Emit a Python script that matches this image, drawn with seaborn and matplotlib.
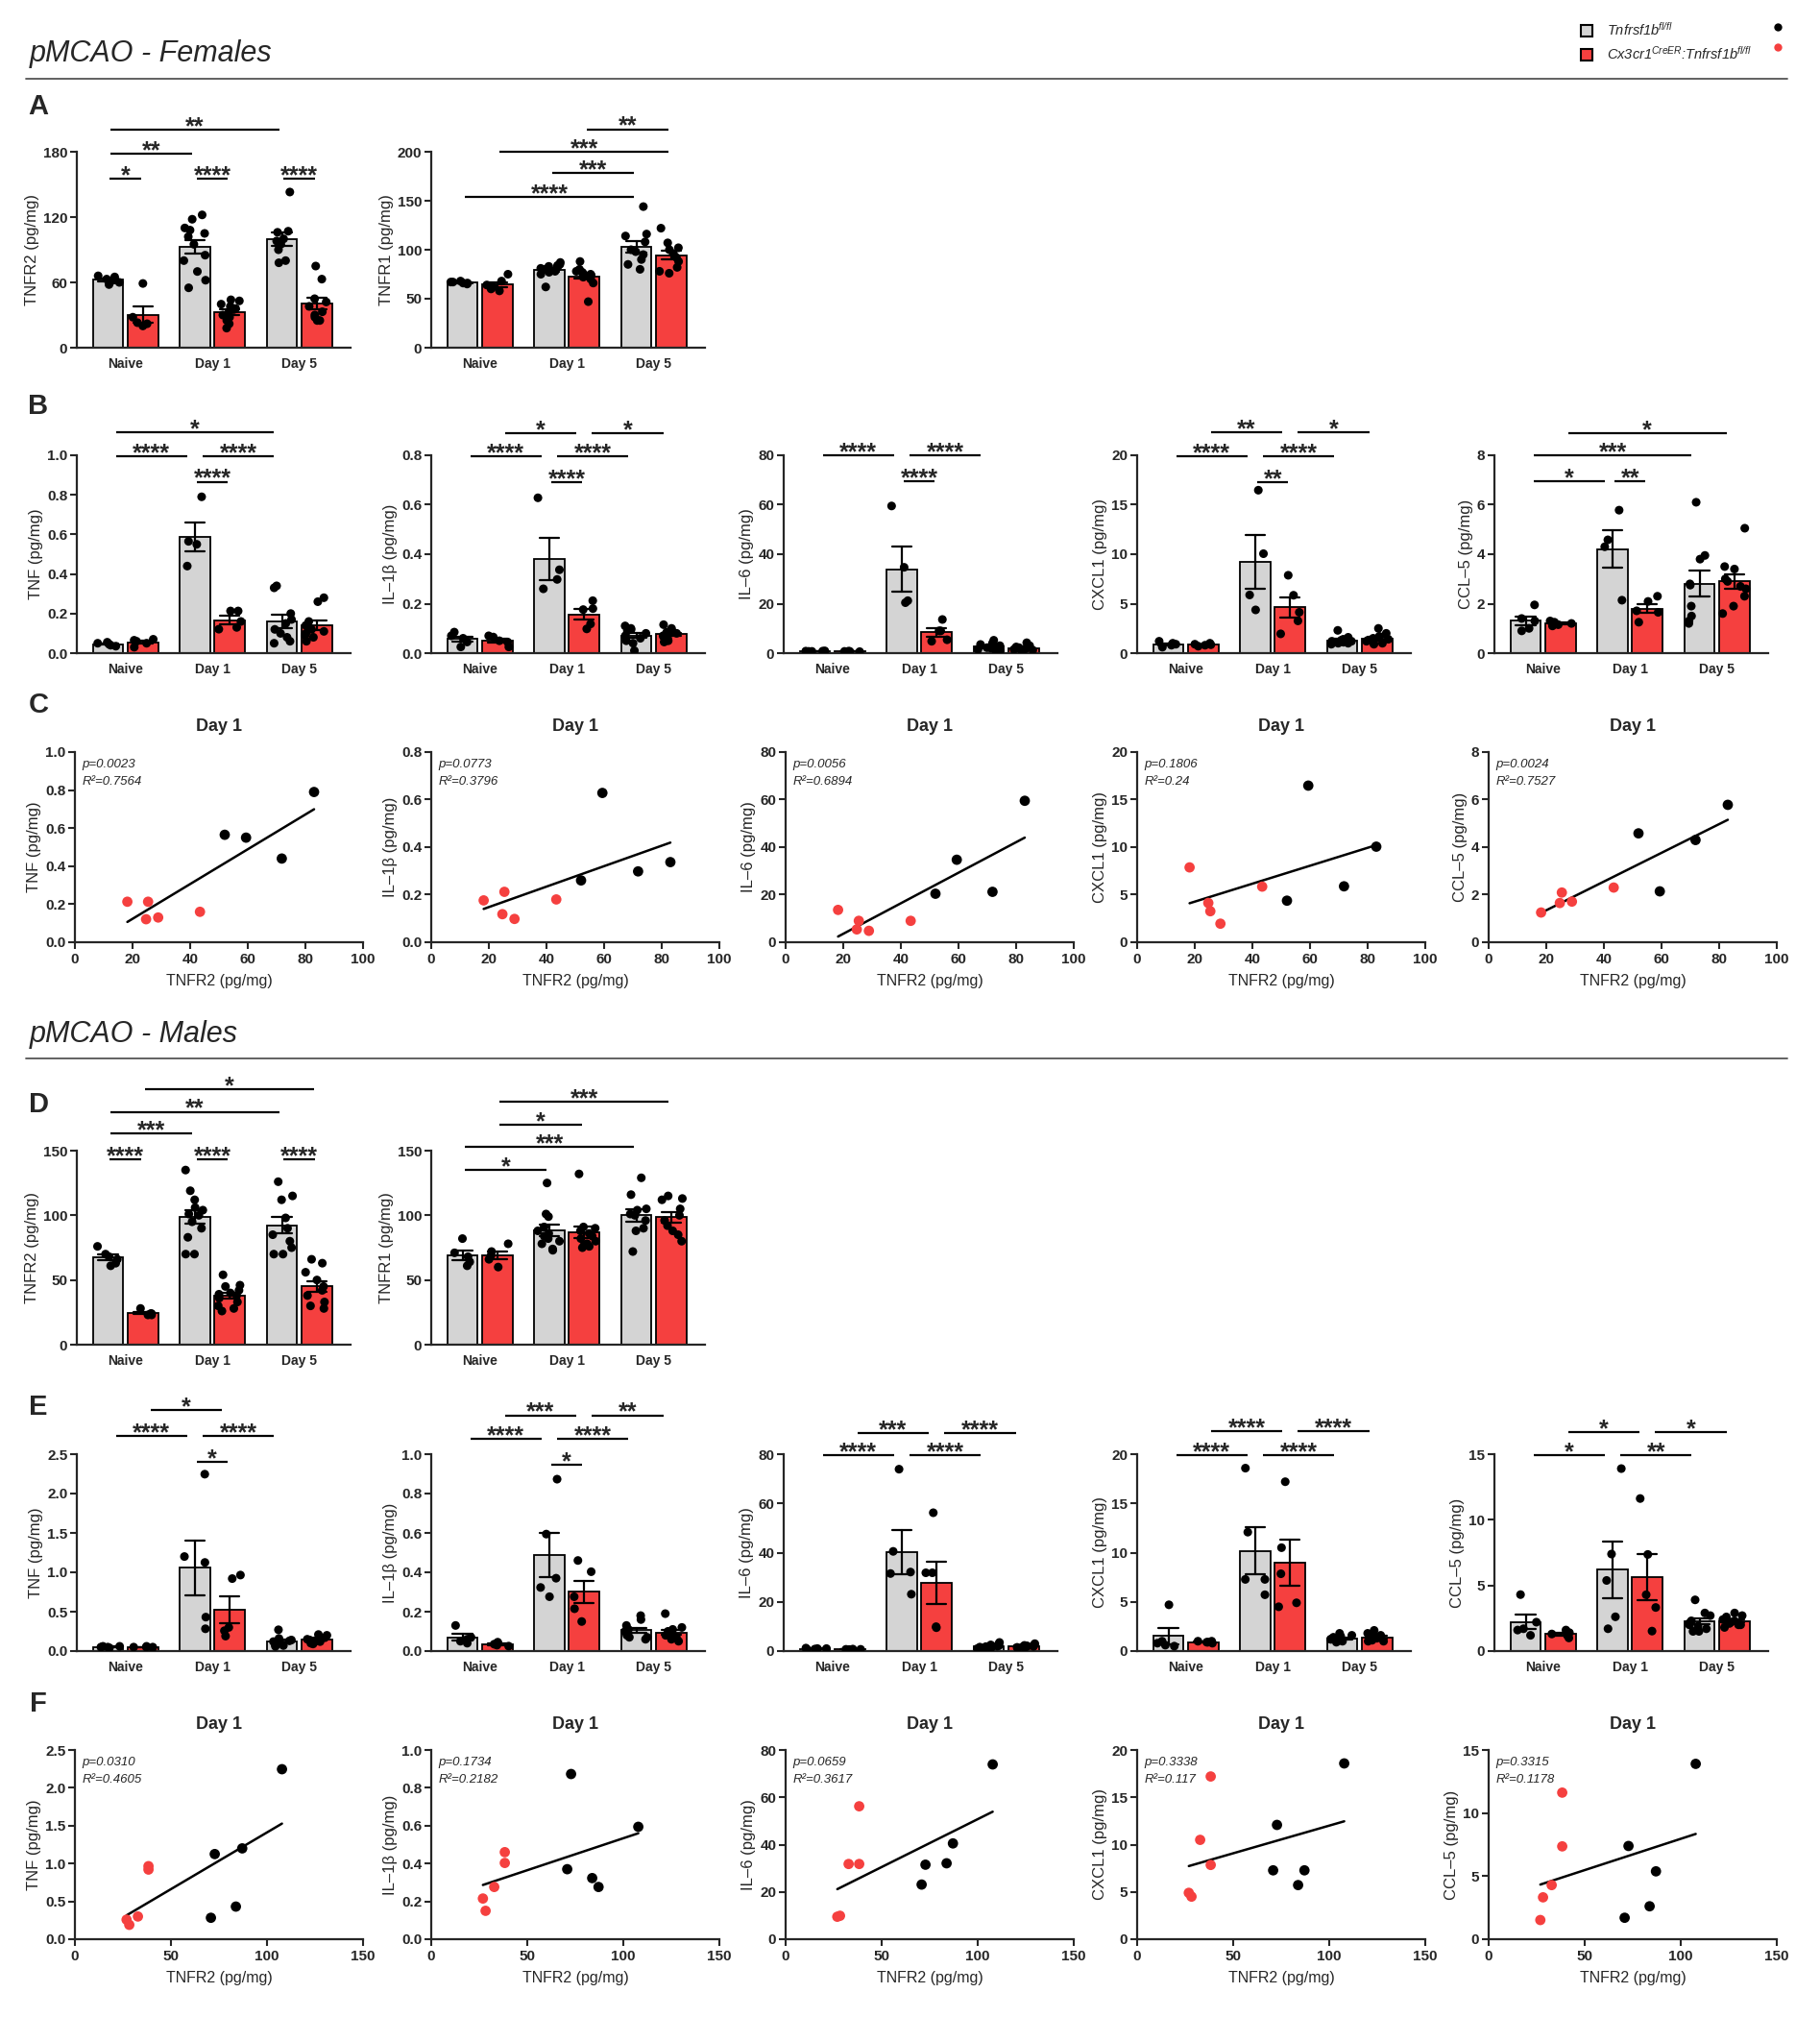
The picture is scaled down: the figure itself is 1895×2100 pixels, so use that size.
import warnings
import numpy as np
import matplotlib
matplotlib.use('Agg')
import matplotlib.pyplot as plt
from matplotlib.lines import Line2D
import seaborn as sns
import pandas as pd

warnings.filterwarnings('ignore')
np.random.seed(7)  # only for the horizontal jitter of the dots

# ---------------- data ----------------
days = ['Naive', 'Day 1', 'Day 5']
genotypes = ['Tnfrsf1b fl/fl', 'Cx3cr1 CreER:Tnfrsf1b fl/fl']
legend_labels = ['Tnfrsf1b$^{fl/fl}$', 'Cx3cr1$^{CreER}$:Tnfrsf1b$^{fl/fl}$']

# females, receptors (panel A)
fem_tnfr2_wt = [[66, 65, 63, 62, 60, 58],
                [122, 118, 110, 108, 105, 102, 95, 85, 80, 70, 62, 55],
                [143, 107, 106, 100, 98, 95, 90, 80, 78]]
fem_tnfr2_ko = [[59, 28, 23, 20, 22],
                [44, 43, 40, 38, 36, 35, 33, 30, 28, 25, 22, 18],
                [75, 63, 45, 42, 38, 33, 30, 28, 25, 25]]
fem_tnfr1_wt = [[68, 67, 67, 66, 66, 65],
                [87, 85, 84, 83, 82, 81, 80, 79, 78, 77, 75, 62],
                [144, 116, 114, 108, 100, 98, 95, 90, 85, 80]]
fem_tnfr1_ko = [[75, 68, 64, 62, 58, 60],
                [88, 80, 78, 77, 76, 75, 74, 73, 72, 70, 66, 47],
                [122, 107, 102, 100, 96, 92, 88, 82, 78, 76]]

# females, day 1 mice used in the correlations (panel C)
fem_d1_tnfr2_wt = [52.0, 59.4, 71.8, 83.0]
fem_d1_tnfr2_ko = [18.2, 24.7, 25.4, 28.9, 43.4]
fem_d1_tnf_wt = [0.565, 0.55, 0.44, 0.79]
fem_d1_tnf_ko = [0.213, 0.121, 0.213, 0.13, 0.16]
fem_d1_il1b_wt = [0.26, 0.628, 0.298, 0.337]
fem_d1_il1b_ko = [0.176, 0.118, 0.212, 0.098, 0.18]
fem_d1_il6_wt = [20.4, 34.7, 21.2, 59.5]
fem_d1_il6_ko = [13.6, 5.4, 9.0, 4.8, 9.0]
fem_d1_cxcl1_wt = [4.37, 16.47, 5.88, 10.05]
fem_d1_cxcl1_ko = [7.87, 4.13, 3.26, 1.95, 5.85]
fem_d1_ccl5_wt = [4.58, 2.14, 4.30, 5.78]
fem_d1_ccl5_ko = [1.25, 1.65, 2.09, 1.71, 2.30]

# females, cytokines (panel B)
fem_tnf_wt = [[0.055, 0.05, 0.045, 0.04, 0.035], fem_d1_tnf_wt,
              [0.34, 0.33, 0.20, 0.17, 0.12, 0.10, 0.08, 0.06, 0.05, 0.15]]
fem_tnf_ko = [[0.07, 0.065, 0.06, 0.05, 0.03], fem_d1_tnf_ko,
              [0.28, 0.26, 0.16, 0.14, 0.12, 0.11, 0.10, 0.09, 0.08, 0.06]]
fem_il1b_wt = [[0.085, 0.07, 0.06, 0.045, 0.025], fem_d1_il1b_wt,
               [0.11, 0.10, 0.095, 0.09, 0.08, 0.07, 0.06, 0.05, 0.04, 0.01]]
fem_il1b_ko = [[0.07, 0.065, 0.05, 0.045, 0.025], fem_d1_il1b_ko,
               [0.115, 0.10, 0.09, 0.085, 0.08, 0.07, 0.065, 0.06, 0.05, 0.045]]
fem_il6_wt = [[0.9, 0.8, 0.8, 0.7, 0.7], fem_d1_il6_wt,
              [5.2, 4.0, 3.5, 3.0, 2.5, 2.2, 2.0, 1.5, 1.0, 0.5]]
fem_il6_ko = [[0.8, 0.7, 0.7, 0.6, 0.6], fem_d1_il6_ko,
              [4.2, 3.0, 2.5, 2.2, 2.0, 1.8, 1.5, 1.2, 1.0, 0.6]]
fem_cxcl1_wt = [[1.2, 1.0, 0.9, 0.8, 0.6], fem_d1_cxcl1_wt,
                [2.3, 1.6, 1.4, 1.3, 1.2, 1.2, 1.1, 1.0, 0.9, 1.0]]
fem_cxcl1_ko = [[1.0, 0.9, 0.85, 0.8, 0.7], fem_d1_cxcl1_ko,
                [2.5, 2.0, 1.7, 1.5, 1.4, 1.3, 1.2, 1.0, 0.9, 1.0]]
fem_ccl5_wt = [[1.95, 1.4, 1.3, 1.0, 0.9], fem_d1_ccl5_wt,
               [6.1, 3.95, 3.8, 2.8, 2.75, 1.9, 1.5, 1.3, 1.2]]
fem_ccl5_ko = [[1.3, 1.25, 1.2, 1.15, 1.1], fem_d1_ccl5_ko,
               [5.05, 3.5, 3.4, 3.0, 2.9, 2.7, 2.3, 1.9, 1.6, 2.6]]

# males, receptors (panel D)
male_tnfr2_wt = [[76, 70, 68, 66, 63, 61],
                 [135, 119, 112, 106, 104, 101, 100, 95, 90, 83, 70, 70],
                 [126, 115, 112, 98, 90, 85, 80, 75, 70, 70]]
male_tnfr2_ko = [[28, 24, 24, 23, 23],
                 [54, 46, 45, 42, 40, 39, 38, 36, 33, 30, 28, 26],
                 [66, 63, 56, 50, 45, 42, 38, 33, 30, 28]]
male_tnfr1_wt = [[82, 71, 68, 64, 61],
                 [125, 101, 99, 91, 88, 86, 84, 82, 80, 78, 74, 73],
                 [129, 116, 105, 104, 101, 100, 96, 90, 88, 72]]
male_tnfr1_ko = [[78, 72, 69, 66, 60],
                 [132, 91, 90, 88, 86, 84, 82, 80, 78, 77, 76, 75],
                 [115, 113, 112, 105, 100, 96, 92, 88, 85, 80]]

# males, day 1 mice used in the correlations (panel F)
male_d1_tnfr2_wt = [70.8, 72.8, 83.8, 87.1, 107.8]
male_d1_tnfr2_ko = [26.9, 28.3, 32.8, 38.3, 38.3]
male_d1_tnf_wt = [0.283, 1.125, 0.431, 1.20, 2.246]
male_d1_tnf_ko = [0.258, 0.19, 0.30, 0.965, 0.92]
male_d1_il1b_wt = [0.37, 0.873, 0.323, 0.276, 0.594]
male_d1_il1b_ko = [0.215, 0.15, 0.276, 0.46, 0.403]
male_d1_il6_wt = [23.1, 31.5, 32.1, 40.5, 73.9]
male_d1_il6_ko = [9.5, 9.9, 31.8, 31.8, 56.2]
male_d1_cxcl1_wt = [7.28, 12.08, 5.72, 7.28, 18.58]
male_d1_cxcl1_ko = [4.9, 4.5, 10.5, 7.85, 17.2]
male_d1_ccl5_wt = [1.70, 7.39, 2.61, 5.38, 13.9]
male_d1_ccl5_ko = [1.52, 3.32, 4.29, 7.36, 11.62]

# males, cytokines (panel E)
male_tnf_wt = [[0.06, 0.06, 0.05, 0.05, 0.04], male_d1_tnf_wt,
               [0.27, 0.16, 0.14, 0.13, 0.12, 0.11, 0.10, 0.08, 0.07, 0.06]]
male_tnf_ko = [[0.06, 0.05, 0.05, 0.05, 0.04], male_d1_tnf_ko,
               [0.21, 0.20, 0.17, 0.15, 0.14, 0.13, 0.12, 0.11, 0.10, 0.09]]
male_il1b_wt = [[0.13, 0.07, 0.06, 0.05, 0.04], male_d1_il1b_wt,
                [0.18, 0.16, 0.13, 0.11, 0.10, 0.09, 0.08, 0.07, 0.06, 0.07]]
male_il1b_ko = [[0.045, 0.04, 0.035, 0.03, 0.025], male_d1_il1b_ko,
                [0.19, 0.12, 0.11, 0.10, 0.09, 0.08, 0.08, 0.07, 0.06, 0.05]]
male_il6_wt = [[1.2, 1.0, 1.0, 0.8, 0.8], male_d1_il6_wt,
               [3.5, 2.8, 2.5, 2.2, 2.0, 1.8, 1.6, 1.4, 1.2, 1.0]]
male_il6_ko = [[0.8, 0.7, 0.7, 0.6, 0.6], male_d1_il6_ko,
               [3.0, 2.6, 2.3, 2.1, 2.0, 1.9, 1.7, 1.6, 1.5, 1.3]]
male_cxcl1_wt = [[4.7, 1.0, 0.8, 0.6, 0.5], male_d1_cxcl1_wt,
                 [1.8, 1.6, 1.5, 1.4, 1.3, 1.2, 1.2, 1.1, 1.0, 0.9]]
male_cxcl1_ko = [[1.0, 1.0, 0.9, 0.9, 0.8], male_d1_cxcl1_ko,
                 [2.1, 1.8, 1.6, 1.5, 1.4, 1.3, 1.2, 1.1, 1.0, 1.0]]
male_ccl5_wt = [[4.3, 2.2, 1.7, 1.6, 1.2], male_d1_ccl5_wt,
                [3.9, 2.9, 2.7, 2.3, 2.1, 2.0, 1.9, 1.7, 1.5, 1.5]]
male_ccl5_ko = [[1.6, 1.4, 1.3, 1.2, 1.0], male_d1_ccl5_ko,
                [2.9, 2.7, 2.6, 2.4, 2.3, 2.2, 2.1, 2.0, 2.0, 1.8]]

# correlation statistics as printed (p, R2)
fem_stats = [('0.0023', '0.7564'), ('0.0773', '0.3796'), ('0.0056', '0.6894'),
             ('0.1806', '0.24'), ('0.0024', '0.7527')]
male_stats = [('0.0310', '0.4605'), ('0.1734', '0.2182'), ('0.0659', '0.3617'),
              ('0.3338', '0.117'), ('0.3315', '0.1178')]

# significance brackets: (group1, genotype1, group2, genotype2, height, stars)
br_fem_tnfr2 = [(0, 0, 0, 1, 155, '*'), (1, 0, 1, 1, 155, '****'), (2, 0, 2, 1, 155, '****'),
                (0, 0, 1, 0, 178.5, '**'), (0, 0, 2, 0, 200, '**')]
br_fem_tnfr1 = [(0, 0, 2, 0, 154, '****'), (1, 0, 2, 0, 178, '***'),
                (0, 1, 2, 1, 200, '***'), (1, 1, 2, 1, 223, '**')]
br_fem_tnf = [(1, 0, 1, 1, 0.866, '****'), (0, 0, 1, 0, 0.995, '****'),
              (1, 0, 2, 0, 0.995, '****'), (0, 0, 2, 0, 1.117, '*')]
br_fem_il1b = [(1, 0, 1, 1, 0.692, '****'), (0, 0, 1, 0, 0.796, '****'), (1, 0, 2, 0, 0.796, '****'),
               (0, 1, 1, 1, 0.89, '*'), (1, 1, 2, 1, 0.89, '*')]
br_fem_il6 = [(1, 0, 1, 1, 69.5, '****'), (0, 0, 1, 0, 79.9, '****'), (1, 0, 2, 0, 79.9, '****')]
br_fem_cxcl1 = [(1, 0, 1, 1, 17.3, '**'), (0, 0, 1, 0, 19.9, '****'), (1, 0, 2, 0, 19.9, '****'),
                (0, 1, 1, 1, 22.3, '**'), (1, 1, 2, 1, 22.3, '*')]
br_fem_ccl5 = [(0, 0, 1, 0, 6.95, '*'), (1, 0, 1, 1, 6.95, '**'),
               (0, 0, 2, 0, 8.0, '***'), (0, 1, 2, 1, 8.9, '*')]
br_male_tnfr2 = [(0, 0, 0, 1, 143.5, '****'), (1, 0, 1, 1, 143.5, '****'), (2, 0, 2, 1, 143.5, '****'),
                 (0, 0, 1, 0, 163, '***'), (0, 0, 2, 0, 180, '**'), (0, 1, 2, 1, 197.5, '*')]
br_male_tnfr1 = [(0, 0, 1, 0, 134.8, '*'), (0, 0, 2, 0, 152.6, '***'),
                 (0, 1, 1, 1, 170, '*'), (0, 1, 2, 1, 188, '***')]
br_male_tnf = [(1, 0, 1, 1, 2.4, '*'), (0, 0, 1, 0, 2.73, '****'),
               (1, 0, 2, 0, 2.73, '****'), (0, 1, 1, 1, 3.06, '*')]
br_male_il1b = [(1, 0, 1, 1, 0.948, '*'), (0, 0, 1, 0, 1.077, '****'), (1, 0, 2, 0, 1.077, '****'),
                (0, 1, 1, 1, 1.197, '***'), (1, 1, 2, 1, 1.197, '**')]
br_male_il6 = [(0, 0, 1, 0, 79.6, '****'), (1, 0, 2, 0, 79.6, '****'),
               (0, 1, 1, 1, 88.4, '***'), (1, 1, 2, 1, 88.4, '****')]
br_male_cxcl1 = [(0, 0, 1, 0, 19.9, '****'), (1, 0, 2, 0, 19.9, '****'),
                 (0, 1, 1, 1, 22.3, '****'), (1, 1, 2, 1, 22.3, '****')]
br_male_ccl5 = [(0, 0, 1, 0, 14.93, '*'), (1, 0, 2, 0, 14.93, '**'),
                (0, 1, 1, 1, 16.7, '*'), (1, 1, 2, 1, 16.7, '*')]

# ---------------- style ----------------
sns.set_theme(style='ticks')
plt.rcParams['font.family'] = ['Liberation Sans', 'DejaVu Sans']
plt.rcParams['mathtext.fontset'] = 'custom'
plt.rcParams['mathtext.it'] = 'Liberation Sans:italic'
plt.rcParams['mathtext.rm'] = 'Liberation Sans:italic'
plt.rcParams['mathtext.bf'] = 'Liberation Sans:bold'

GREY = '#d4d4d4'
RED = '#f5403f'
W, H = 1895, 2100
fig = plt.figure(figsize=(W / 100, H / 100), dpi=100)


def add_ax(left, top, width, height):
    # pixel box measured from the top-left corner
    return fig.add_axes([left / W, 1 - (top + height) / H, width / W, height / H])


def ticks_for(ymax, step):
    n = int(round(ymax / step))
    return [round(i * step, 4) for i in range(n + 1)]


def style_axes(ax, yticks, dec, ylabel):
    ax.set_yticks(yticks, labels=[f'{t:.{dec}f}' for t in yticks], fontsize=11, fontweight='bold')
    ax.set_ylim(0, yticks[-1])
    ax.set_ylabel(ylabel, fontsize=12, labelpad=3)
    ax.tick_params(axis='y', length=5, width=1.5, pad=2, direction='out')
    sns.despine(ax=ax)
    for side in ('left', 'bottom'):
        ax.spines[side].set_linewidth(1.6)


def bar_panel(ax, wt, ko, ymax, step, dec, ylabel, brackets, inset):
    rows = []
    for i, day in enumerate(days):
        rows += [(day, genotypes[0], v) for v in wt[i]]
        rows += [(day, genotypes[1], v) for v in ko[i]]
    df = pd.DataFrame(rows, columns=['day', 'genotype', 'value'])
    sns.barplot(data=df, x='day', y='value', hue='genotype', order=days, hue_order=genotypes,
                palette=[GREY, RED], saturation=1, errorbar='se', capsize=0.45, gap=0.12,
                edgecolor='black', linewidth=1.3,
                err_kws={'color': 'black', 'linewidth': 1.6}, legend=False, ax=ax)
    # jitter is split between the two dodged genotypes
    sns.stripplot(data=df, x='day', y='value', hue='genotype', order=days, hue_order=genotypes,
                  palette=['black', 'black'], dodge=True, jitter=0.27, size=6.5,
                  legend=False, ax=ax)
    style_axes(ax, ticks_for(ymax, step), dec, ylabel)
    ax.set_xticks(range(3), labels=days, fontsize=10, fontweight='bold')
    ax.set_xlim(-0.56, 2.59)
    ax.set_xlabel('')
    ax.tick_params(axis='x', length=0, pad=7)

    offs = [-0.2, 0.2]
    for g1, h1, g2, h2, y, stars in brackets:
        pad = 0.02 if g1 == g2 else inset
        x1, x2 = g1 + offs[h1] + pad, g2 + offs[h2] - pad
        ax.plot([x1, x2], [y, y], color='black', lw=1.6, clip_on=False, solid_capstyle='butt')
        ax.annotate(stars, ((x1 + x2) / 2, y), xytext=(0, -3), textcoords='offset points',
                    ha='center', va='baseline', fontsize=18, fontweight='bold',
                    annotation_clip=False)


def scatter_panel(ax, x_wt, y_wt, x_ko, y_ko, xmax, xstep, ymax, ystep, dec, ylabel, stats):
    df = pd.DataFrame({'tnfr2': x_wt + x_ko, 'value': y_wt + y_ko,
                       'genotype': [genotypes[0]] * len(x_wt) + [genotypes[1]] * len(x_ko)})
    sns.regplot(data=df, x='tnfr2', y='value', scatter=False, ci=None, color='black',
                line_kws={'linewidth': 1.8}, ax=ax)
    sns.scatterplot(data=df, x='tnfr2', y='value', hue='genotype', hue_order=genotypes,
                    palette=['black', RED], s=60, linewidth=0, legend=False, ax=ax, zorder=3)
    style_axes(ax, ticks_for(ymax, ystep), dec, ylabel)
    xt = list(range(0, xmax + 1, xstep))
    ax.set_xticks(xt, labels=[str(t) for t in xt], fontsize=11, fontweight='bold')
    ax.set_xlim(0, xmax)
    ax.tick_params(axis='x', length=5, width=1.5, pad=3, direction='out')
    ax.set_xlabel('TNFR2 (pg/mg)', fontsize=11.5, labelpad=6)
    ax.set_title('Day 1', fontsize=13, fontweight='bold', pad=16)
    ax.text(0.025, 0.965, f'p={stats[0]}\nR\u00b2={stats[1]}', transform=ax.transAxes,
            ha='left', va='top', fontsize=9.5, style='italic', linespacing=1.7)


bar_lefts = [80, 449, 816, 1184, 1556]
bar_w = 285
sc_lefts = [78, 449, 818, 1184, 1550]
sc_w = 300

cyto_labels = ['TNF (pg/mg)', 'IL\u20131\u03b2 (pg/mg)', 'IL\u20136 (pg/mg)',
               'CXCL1 (pg/mg)', 'CCL\u20135 (pg/mg)']

# ---------------- females ----------------
bar_panel(add_ax(bar_lefts[0], 158, bar_w, 204), fem_tnfr2_wt, fem_tnfr2_ko, 180, 60, 0,
          'TNFR2 (pg/mg)', br_fem_tnfr2, 0.03)
bar_panel(add_ax(bar_lefts[1], 158, bar_w, 204), fem_tnfr1_wt, fem_tnfr1_ko, 200, 50, 0,
          'TNFR1 (pg/mg)', br_fem_tnfr1, 0.03)

fem_cyto = [(fem_tnf_wt, fem_tnf_ko, 1.0, 0.2, 1, br_fem_tnf),
            (fem_il1b_wt, fem_il1b_ko, 0.8, 0.2, 1, br_fem_il1b),
            (fem_il6_wt, fem_il6_ko, 80, 20, 0, br_fem_il6),
            (fem_cxcl1_wt, fem_cxcl1_ko, 20, 5, 0, br_fem_cxcl1),
            (fem_ccl5_wt, fem_ccl5_ko, 8, 2, 0, br_fem_ccl5)]
for i, (wt, ko, ymax, step, dec, br) in enumerate(fem_cyto):
    bar_panel(add_ax(bar_lefts[i], 474, bar_w, 206), wt, ko, ymax, step, dec,
              cyto_labels[i], br, 0.09)

fem_corr = [(fem_d1_tnf_wt, fem_d1_tnf_ko), (fem_d1_il1b_wt, fem_d1_il1b_ko),
            (fem_d1_il6_wt, fem_d1_il6_ko), (fem_d1_cxcl1_wt, fem_d1_cxcl1_ko),
            (fem_d1_ccl5_wt, fem_d1_ccl5_ko)]
for i, (yw, yk) in enumerate(fem_corr):
    ymax, step, dec = fem_cyto[i][2], fem_cyto[i][3], fem_cyto[i][4]
    scatter_panel(add_ax(sc_lefts[i], 783, sc_w, 198), fem_d1_tnfr2_wt, yw, fem_d1_tnfr2_ko, yk,
                  100, 20, ymax, step, dec, cyto_labels[i], fem_stats[i])

# ---------------- males ----------------
bar_panel(add_ax(bar_lefts[0], 1198, bar_w, 202), male_tnfr2_wt, male_tnfr2_ko, 150, 50, 0,
          'TNFR2 (pg/mg)', br_male_tnfr2, 0.03)
bar_panel(add_ax(bar_lefts[1], 1198, bar_w, 202), male_tnfr1_wt, male_tnfr1_ko, 150, 50, 0,
          'TNFR1 (pg/mg)', br_male_tnfr1, 0.03)

male_cyto = [(male_tnf_wt, male_tnf_ko, 2.5, 0.5, 1, br_male_tnf),
             (male_il1b_wt, male_il1b_ko, 1.0, 0.2, 1, br_male_il1b),
             (male_il6_wt, male_il6_ko, 80, 20, 0, br_male_il6),
             (male_cxcl1_wt, male_cxcl1_ko, 20, 5, 0, br_male_cxcl1),
             (male_ccl5_wt, male_ccl5_ko, 15, 5, 0, br_male_ccl5)]
for i, (wt, ko, ymax, step, dec, br) in enumerate(male_cyto):
    bar_panel(add_ax(bar_lefts[i], 1514, bar_w, 205), wt, ko, ymax, step, dec,
              cyto_labels[i], br, 0.09)

male_corr = [(male_d1_tnf_wt, male_d1_tnf_ko), (male_d1_il1b_wt, male_d1_il1b_ko),
             (male_d1_il6_wt, male_d1_il6_ko), (male_d1_cxcl1_wt, male_d1_cxcl1_ko),
             (male_d1_ccl5_wt, male_d1_ccl5_ko)]
for i, (yw, yk) in enumerate(male_corr):
    ymax, step, dec = male_cyto[i][2], male_cyto[i][3], male_cyto[i][4]
    scatter_panel(add_ax(sc_lefts[i], 1822, sc_w, 197), male_d1_tnfr2_wt, yw, male_d1_tnfr2_ko, yk,
                  150, 50, ymax, step, dec, cyto_labels[i], male_stats[i])

# ---------------- headers, panel letters, legend ----------------
for text, y_txt, y_line in [('pMCAO - Females', 56, 82), ('pMCAO - Males', 1077, 1102)]:
    fig.text(31 / W, 1 - y_txt / H, text, fontsize=22, style='italic', va='center')
    fig.add_artist(Line2D([27 / W, 1861 / W], [1 - y_line / H] * 2, color='#555555', lw=1.3))

for letter, y in [('A', 111), ('B', 423), ('C', 734), ('D', 1150), ('E', 1465), ('F', 1774)]:
    fig.text(40 / W, 1 - y / H, letter, fontsize=21, fontweight='bold', ha='center', va='center')

squares = [Line2D([], [], ls='', marker='s', ms=8, mfc=c, mec='black', mew=1.5) for c in (GREY, RED)]
dots = [Line2D([], [], ls='', marker='o', ms=6, mfc=c, mec='none') for c in ('black', RED)]
fig.legend(squares, legend_labels, loc='upper left', bbox_to_anchor=(1645 / W, 1 - 22 / H),
           frameon=False, prop={'size': 10.5, 'style': 'italic'}, handlelength=1.0,
           handletextpad=0.9, labelspacing=0.5, borderpad=0, borderaxespad=0)
fig.legend(dots, ['', ''], loc='upper left', bbox_to_anchor=(1844 / W, 1 - 22 / H),
           frameon=False, prop={'size': 10.5}, handlelength=1.0, handletextpad=0,
           labelspacing=0.5, borderpad=0, borderaxespad=0)

fig.savefig('out.png', dpi=100, facecolor='white')
